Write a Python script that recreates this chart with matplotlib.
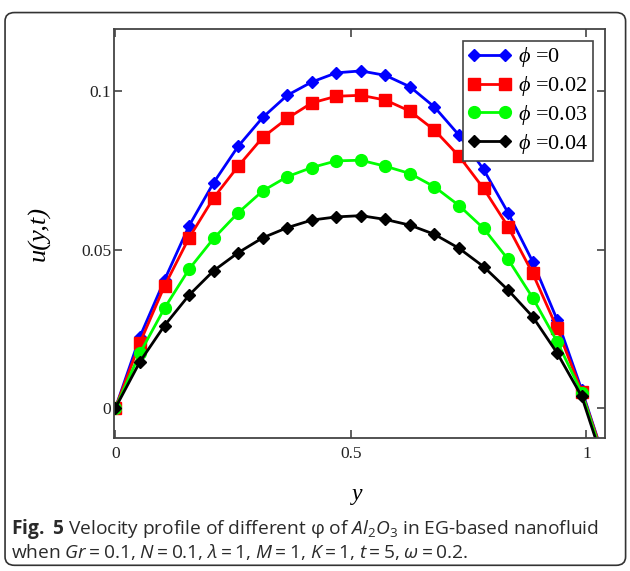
import numpy as np
import matplotlib
matplotlib.use("Agg")
import matplotlib.pyplot as plt
from matplotlib.patches import FancyBboxPatch

# y positions of the markers (20 points) plus one extra point past the wall
y_pts = list(np.linspace(0, 0.99, 20)) + [1.042]

u_phi0 = [0.0, 0.0225, 0.0404, 0.0575, 0.0711, 0.0826, 0.0917, 0.0987, 0.1029, 0.1058,
          0.1064, 0.1050, 0.1014, 0.0950, 0.0861, 0.0753, 0.0616, 0.0462, 0.0278, 0.0057, -0.018]
u_phi002 = [0.0, 0.0206, 0.0385, 0.0537, 0.0663, 0.0763, 0.0854, 0.0914, 0.0963, 0.0984,
            0.0987, 0.0972, 0.0937, 0.0877, 0.0795, 0.0693, 0.0572, 0.0425, 0.0251, 0.0051, -0.018]
u_phi003 = [0.0, 0.0173, 0.0315, 0.0438, 0.0535, 0.0616, 0.0685, 0.0730, 0.0759, 0.0780,
            0.0782, 0.0763, 0.0740, 0.0698, 0.0639, 0.0567, 0.0469, 0.0348, 0.0209, 0.0048, -0.019]
u_phi004 = [0.0, 0.0146, 0.0260, 0.0356, 0.0433, 0.0490, 0.0537, 0.0569, 0.0593, 0.0603,
            0.0607, 0.0595, 0.0577, 0.0548, 0.0504, 0.0446, 0.0372, 0.0288, 0.0173, 0.0036, -0.020]

labels = [" =0", " =0.02", " =0.03", " =0.04"]
colors = ["#0000ff", "#ff0000", "#00ff00", "#000000"]
markers = ["D", "s", "o", "D"]
msizes = [6, 8.5, 8.5, 6]

xticks = [0, 0.5, 1]
xtick_labels = ["0", "0.5", "1"]
yticks = [0, 0.05, 0.1]
ytick_labels = ["0", "0.05", "0.1"]

plt.rcParams["mathtext.fontset"] = "custom"
plt.rcParams["mathtext.rm"] = "Open Sans"
plt.rcParams["mathtext.it"] = "Open Sans:italic"
plt.rcParams["mathtext.bf"] = "Open Sans:bold"
plt.rcParams["mathtext.sf"] = "Liberation Serif:italic"

fig = plt.figure(figsize=(6.3, 5.71), dpi=100)
ax = fig.add_axes([0.181, 0.233, 0.779, 0.716])

series = [u_phi0, u_phi002, u_phi003, u_phi004]
for vals, lab, c, m, ms in zip(series, labels, colors, markers, msizes):
    ax.plot(y_pts, vals, color=c, lw=2, marker=m, ms=ms, markevery=slice(0, 20),
            label=r"$\mathsf{\phi}$" + lab)

ax.set_xlim(-0.003, 1.039)
ax.set_ylim(-0.0095, 0.1196)
ax.set_xticks(xticks)
ax.set_xticklabels(xtick_labels)
ax.set_yticks(yticks)
ax.set_yticklabels(ytick_labels)
ax.tick_params(direction="in", top=True, right=True, length=6, width=1.2,
               color="#444444", labelsize=12.5, labelcolor="#222222")
ax.tick_params(axis="x", pad=6)
ax.tick_params(axis="y", pad=2)
for lbl in ax.get_xticklabels() + ax.get_yticklabels():
    lbl.set_family("Liberation Serif")
for sp in ax.spines.values():
    sp.set_color("#444444")
    sp.set_linewidth(1.3)

ax.set_ylabel("u(y,t)", family="Liberation Serif", style="italic", fontsize=19)
ax.yaxis.set_label_coords(-0.13, 0.5)
ax.set_xlabel("y", family="Liberation Serif", style="italic", fontsize=17)
ax.xaxis.set_label_coords(0.495, -0.113)

leg = ax.legend(loc="upper right", bbox_to_anchor=(0.976, 0.971), numpoints=2,
                handlelength=2.0, handletextpad=0.3, borderpad=0.2, labelspacing=0.22,
                borderaxespad=0, fancybox=False, framealpha=1,
                prop={"family": "Liberation Serif", "size": 16})
leg.get_frame().set_edgecolor("#444444")
leg.get_frame().set_linewidth(1.2)

# caption
fig.text(0.018, 0.065,
         r"$\mathbf{Fig.\ 5}$ Velocity profile of different φ of $\mathit{Al}_{2}\mathit{O}_{3}$ in EG-based nanofluid",
         family="Open Sans", fontsize=13.8, color="#2a2a2a", va="baseline")
fig.text(0.018, 0.023,
         r"when $\mathit{Gr}=0.1$, $\mathit{N}=0.1$, $\lambda=1$, $\mathit{M}=1$, "
         r"$\mathit{K}=1$, $\mathit{t}=5$, $\omega=0.2$.",
         family="Open Sans", fontsize=13.8, color="#2a2a2a", va="baseline")

box = FancyBboxPatch((0.008, 0.01), 0.985, 0.968, boxstyle="round,pad=0,rounding_size=0.015",
                     transform=fig.transFigure, fill=False, edgecolor="#333333", lw=1.2)
fig.patches.append(box)

fig.savefig("out.png", dpi=100)
